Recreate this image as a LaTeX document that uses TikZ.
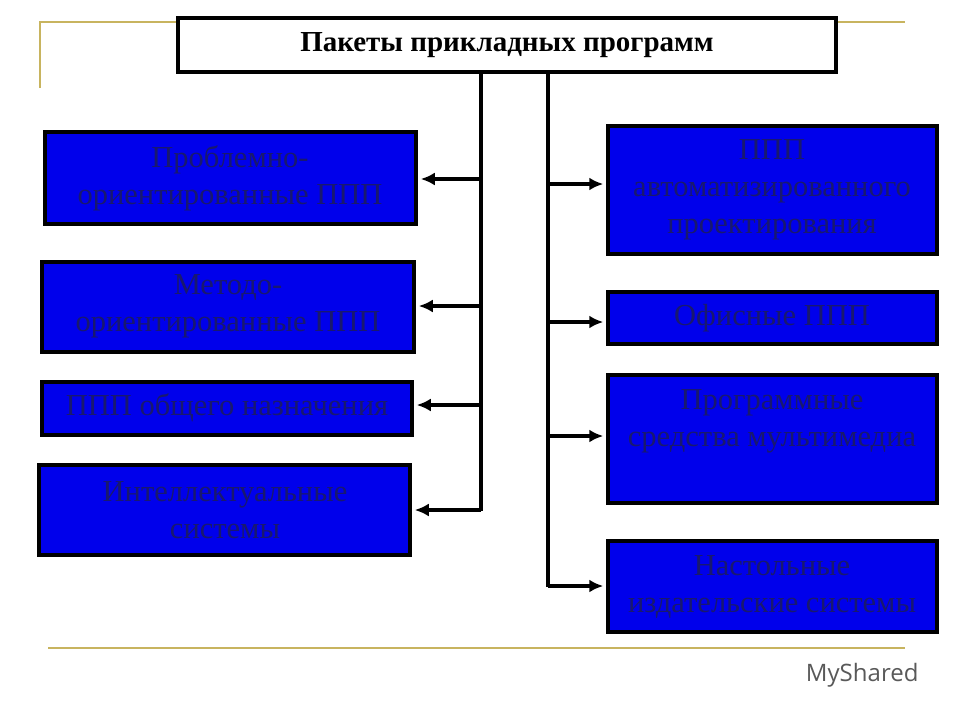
\documentclass[tikz,border=0pt]{standalone}
\usepackage{fontspec}
\setmainfont{Liberation Serif}
\setsansfont{Open Sans}
\usetikzlibrary{arrows.meta}
\definecolor{goldl}{RGB}{200,180,95}
\definecolor{txb}{RGB}{25,25,110}
\begin{document}
\begin{tikzpicture}[x=1pt,y=-1pt,
  bx/.style={draw=black,line width=3.5pt,fill=blue!92!black,inner sep=0pt},
  tx/.style={text=txb,font=\fontsize{30.5}{37}\selectfont,align=center,inner sep=0pt},
  ar/.style={line width=3.5pt,-{Latex[length=14pt,width=13pt]}},
  gold/.style={draw=goldl,line width=2pt}]
\useasboundingbox (0,0) rectangle (960,720);
\draw[gold] (40,88) -- (40,22) -- (905,22);
\draw[gold] (48,648) -- (905,648);
\node[draw,line width=3.5pt,fill=white,minimum width=658pt,minimum height=54pt] (t) at (507,45) {\fontsize{29}{32}\selectfont\bfseries Пакеты прикладных программ};
\newcommand\mybox[5]{\node[bx,minimum width=#3-#2,minimum height=#5-#4] (#1) at ({(#2+#3)/2},{(#4+#5)/2}) {};}
\mybox{L1}{45}{416}{132}{224}
\mybox{L2}{42}{414}{262}{352}
\mybox{L3}{42}{412}{382}{435}
\mybox{L4}{39}{410}{465}{555}
\mybox{R1}{608}{937}{126}{254}
\mybox{R2}{608}{937}{292}{344}
\mybox{R3}{608}{937}{375}{503}
\mybox{R4}{608}{937}{541}{632}
\node[tx] (tL1) at (230,178) {Проблемно-\\ориентированные ППП};
\node[tx] (tL2) at (228,306) {Методо-\\ориентированные ППП};
\node[tx] (tL3) at (227,408) {ППП общего назначения};
\node[tx] (tL4) at (225,510) {Интеллектуальные\\системы};
\node[tx] (tR1) at (772,190) {ППП\\автоматизированного\\проектирования};
\node[tx] (tR2) at (772,318) {Офисные ППП};
\node[tx] (tR3) at (772,421) {Программные\\средства мультимедиа};
\node[tx] (tR4) at (772,587) {Настольные\\издательские системы};
\coordinate (a) at (481,72); \coordinate (b) at (548,72);
\draw[line width=3.5pt] (t.south -| a) -- (481,511);
\draw[line width=3.5pt] (t.south -| b) -- (548,587);
\draw[ar] (481,179) -- ([xshift=3pt]L1.east |- 0,179);
\draw[ar] (481,306) -- ([xshift=3pt]L2.east |- 0,306);
\draw[ar] (481,405) -- ([xshift=3pt]L3.east |- 0,405);
\draw[ar] (481,510) -- ([xshift=3pt]L4.east |- 0,510);
\draw[ar] (548,184) -- ([xshift=-3pt]R1.west |- 0,184);
\draw[ar] (548,322) -- ([xshift=-3pt]R2.west |- 0,322);
\draw[ar] (548,436) -- ([xshift=-3pt]R3.west |- 0,436);
\draw[ar] (548,586) -- ([xshift=-3pt]R4.west |- 0,586);
\node[font=\sffamily\fontsize{24}{26}\selectfont,text=gray!70!black,anchor=east] (ms) at (922,675) {MyShared};
\end{tikzpicture}
\end{document}
